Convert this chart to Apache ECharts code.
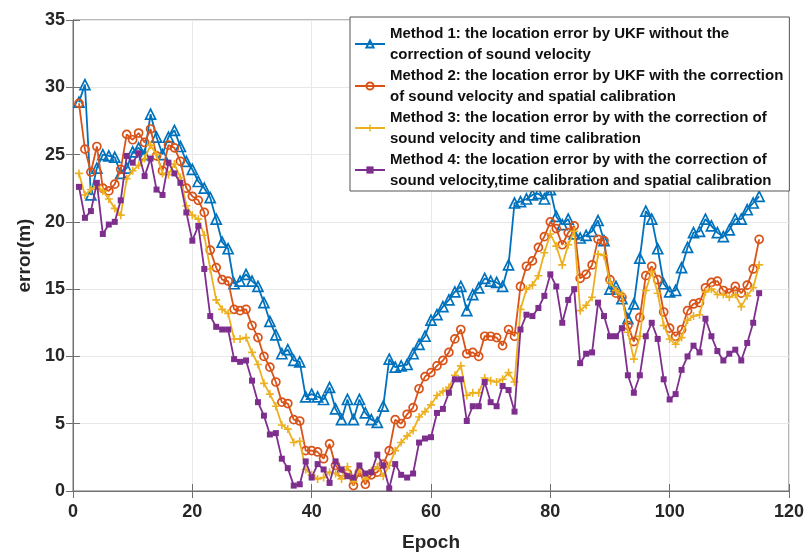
<!DOCTYPE html>
<html><head><meta charset="utf-8">
<script src="https://cdn.jsdelivr.net/npm/echarts@6/dist/echarts.min.js"></script>
<style>html,body{margin:0;padding:0;background:#fff}#c{width:807px;height:557px}</style>
</head><body><div id="c"></div>
<script>
const seriesNames = [
  'Method 1: the location error by UKF without the\ncorrection of sound velocity',
  'Method 2: the location error by UKF with the correction\nof sound velocity and spatial calibration',
  'Method 3: the location error by with the correction of\nsound velocity and time calibration',
  'Method 4: the location error by with the correction of\nsound velocity,time calibration and spatial calibration'
];
const xTicks = [0, 20, 40, 60, 80, 100, 120];
const yTicks = [0, 5, 10, 15, 20, 25, 30, 35];
const method1 = [28.9,30.2,22.0,24.0,25.0,24.9,24.8,23.6,24.0,25.2,25.5,25.0,28.0,26.3,25.0,26.3,26.8,25.6,24.5,23.9,
23.0,22.5,21.8,20.2,18.5,18.0,15.4,15.6,16.1,15.6,15.2,14.0,12.6,11.6,10.2,10.5,9.7,9.6,7.0,7.2,
7.0,6.8,7.7,6.1,5.3,6.8,5.3,6.8,5.8,5.3,5.1,6.3,9.8,9.2,9.3,9.4,10.2,10.9,11.5,12.7,
13.1,13.7,14.2,14.8,15.2,13.4,14.6,15.1,15.8,15.6,15.5,15.2,16.8,21.4,21.5,21.7,22.0,22.1,21.7,22.4,
20.4,19.8,20.2,19.1,18.8,19.0,19.3,20.1,18.6,15.0,15.2,14.3,12.8,13.9,17.3,20.8,20.2,18.0,15.4,14.8,
14.9,16.6,18.1,19.2,19.3,20.2,19.7,19.2,18.9,19.4,20.2,20.2,20.9,21.4,21.9];
const method2 = [28.8,25.4,23.7,25.6,22.5,22.3,22.8,23.9,26.5,26.1,26.6,25.9,26.9,24.9,23.8,25.7,25.5,24.5,22.5,21.9,
21.6,20.7,17.9,16.6,15.7,15.6,13.5,13.4,13.5,12.3,11.4,10.0,9.2,8.1,6.6,6.5,5.3,5.2,3.0,3.0,
2.9,2.4,3.5,1.9,1.4,1.3,0.4,1.4,0.5,1.2,1.4,2.0,3.0,5.3,5.0,5.7,6.2,7.6,8.5,8.8,
9.3,9.7,10.3,11.3,12.0,10.2,10.3,10.0,11.5,11.5,11.4,10.8,12.0,11.5,15.2,16.7,17.1,18.1,18.9,20.0,
19.5,18.3,19.2,19.7,15.8,16.1,16.8,18.7,18.6,15.7,14.7,14.4,12.3,11.1,12.9,16.0,16.7,15.7,13.3,12.1,
11.5,12.0,13.4,13.9,14.0,15.1,15.5,15.6,14.9,14.7,15.2,14.7,15.3,16.5,18.7];
const method3 = [23.6,22.0,22.4,22.7,22.3,21.7,21.0,20.5,23.2,23.8,24.2,24.7,25.7,25.0,23.6,23.5,24.3,23.3,21.2,20.5,
20.2,19.0,16.5,14.2,13.5,13.2,11.3,11.3,11.4,10.3,9.4,8.0,7.2,6.3,4.9,4.6,3.6,3.7,1.6,1.2,
0.9,1.0,1.4,1.3,0.9,1.8,0.7,1.6,0.9,1.5,1.8,1.1,1.9,3.0,3.6,4.1,4.5,5.5,5.9,6.4,
7.1,7.4,7.7,8.6,9.3,7.1,7.3,7.3,8.4,8.2,8.1,8.3,8.8,8.1,13.5,15.0,15.3,16.0,17.7,19.1,
18.2,16.8,18.3,19.3,13.4,13.8,14.4,17.6,17.5,15.5,14.9,14.6,11.8,9.8,11.5,14.9,16.3,14.7,12.3,11.3,
10.9,11.4,12.7,13.0,13.1,14.8,15.0,14.6,14.6,14.4,14.6,13.7,14.5,15.1,16.8];
const method4 = [22.6,20.3,20.8,22.9,19.1,19.8,20.0,21.6,24.9,24.4,25.1,23.4,24.7,22.4,22.0,24.4,23.6,22.9,20.7,18.6,
19.7,16.5,13.0,12.2,12.0,12.0,9.8,9.6,9.7,8.2,6.6,5.6,4.2,4.3,2.4,1.7,0.4,0.5,2.2,1.0,
2.0,1.6,0.6,2.2,1.6,1.1,1.0,1.9,1.3,1.4,2.7,1.9,0.2,2.0,1.2,1.0,1.3,3.6,3.9,4.0,
5.8,6.1,7.3,8.3,8.3,5.2,6.3,6.3,8.1,6.6,6.3,7.8,7.5,5.9,12.0,13.1,13.0,13.6,14.5,16.1,
15.2,12.5,14.2,15.0,9.5,10.2,10.3,14.0,13.0,11.5,11.5,12.1,8.6,7.3,8.6,11.5,12.5,11.3,8.3,6.8,
7.2,9.0,10.0,10.8,10.3,12.8,11.5,10.4,9.7,10.2,10.5,9.7,11.0,12.5,14.7];

const colors = ['#0072BD', '#D95319', '#EDB120', '#7E2F8E'];
const allData = [method1, method2, method3, method4];
const toPairs = arr => arr.map((v, i) => [i + 1, v]);
const plusPath = 'path://M4,0h2v4h4v2h-4v4h-2v-4h-4v-2h4z';
const symbolCfg = [
  {symbol: 'triangle', symbolSize: 10, itemStyle: {color: 'rgba(255,255,255,0)', borderColor: colors[0], borderWidth: 1.7}},
  {symbol: 'circle', symbolSize: 8, itemStyle: {color: 'rgba(255,255,255,0)', borderColor: colors[1], borderWidth: 1.7}},
  {symbol: plusPath, symbolSize: 8, itemStyle: {color: colors[2], borderWidth: 0}},
  {symbol: 'rect', symbolSize: 6, itemStyle: {color: colors[3], borderWidth: 0}}
];
const FONT = 'Liberation Sans, Arial, sans-serif';
const axisText = {color: '#262626', fontSize: 18, fontWeight: 'bold', fontFamily: FONT};
const axisLineColor = '#707070';

const chart = echarts.init(document.getElementById('c'), null, {renderer: 'canvas'});
chart.setOption({
  animation: false,
  backgroundColor: '#fff',
  grid: {left: 73, right: 16, top: 20, bottom: 65, show: true, borderColor: axisLineColor, borderWidth: 1},
  legend: {
    orient: 'vertical', left: 350, top: 17, itemGap: 0, itemWidth: 30, itemHeight: 9,
    backgroundColor: '#fff', borderColor: '#555', borderWidth: 1, borderRadius: 0,
    padding: [6, 6, 0, 4],
    textStyle: {color: '#111', fontSize: 15, fontWeight: 'bold', lineHeight: 21, fontFamily: FONT},
    data: seriesNames
  },
  xAxis: [{
    type: 'value', min: 0, max: 120, interval: 20,
    name: 'Epoch', nameLocation: 'middle', nameGap: 42,
    nameTextStyle: {color: '#262626', fontSize: 19, fontWeight: 'bold', fontFamily: FONT},
    axisLine: {lineStyle: {color: axisLineColor}},
    axisTick: {inside: true, length: 7, lineStyle: {color: axisLineColor}},
    axisLabel: Object.assign({margin: 12, formatter: v => xTicks.includes(v) ? String(v) : ''}, axisText),
    splitLine: {show: true, lineStyle: {color: '#e8e8e8'}}
  }, {
    type: 'value', position: 'top', min: 0, max: 120, interval: 20,
    axisLine: {show: true, lineStyle: {color: axisLineColor}},
    axisTick: {inside: true, length: 7, lineStyle: {color: axisLineColor}},
    axisLabel: {show: false}, splitLine: {show: false}
  }],
  yAxis: [{
    type: 'value', min: 0, max: 35, interval: 5,
    name: 'error(m)', nameLocation: 'middle', nameGap: 31,
    nameTextStyle: {color: '#262626', fontSize: 19, fontWeight: 'bold', fontFamily: FONT},
    axisLine: {show: true, lineStyle: {color: axisLineColor}},
    axisTick: {show: true, inside: true, length: 7, lineStyle: {color: axisLineColor}},
    axisLabel: Object.assign({margin: 8, formatter: v => yTicks.includes(v) ? String(v) : ''}, axisText),
    splitLine: {show: true, lineStyle: {color: '#e8e8e8'}}
  }, {
    type: 'value', position: 'right', min: 0, max: 35, interval: 5,
    axisLine: {show: true, lineStyle: {color: axisLineColor}},
    axisTick: {show: true, inside: true, length: 7, lineStyle: {color: axisLineColor}},
    axisLabel: {show: false}, splitLine: {show: false}
  }],
  series: allData.map((arr, k) => Object.assign({
    name: seriesNames[k], type: 'line', data: toPairs(arr), color: colors[k],
    lineStyle: {color: colors[k], width: 1.8}, showAllSymbol: true, z: 2 + k
  }, symbolCfg[k]))
});
</script></body></html>
